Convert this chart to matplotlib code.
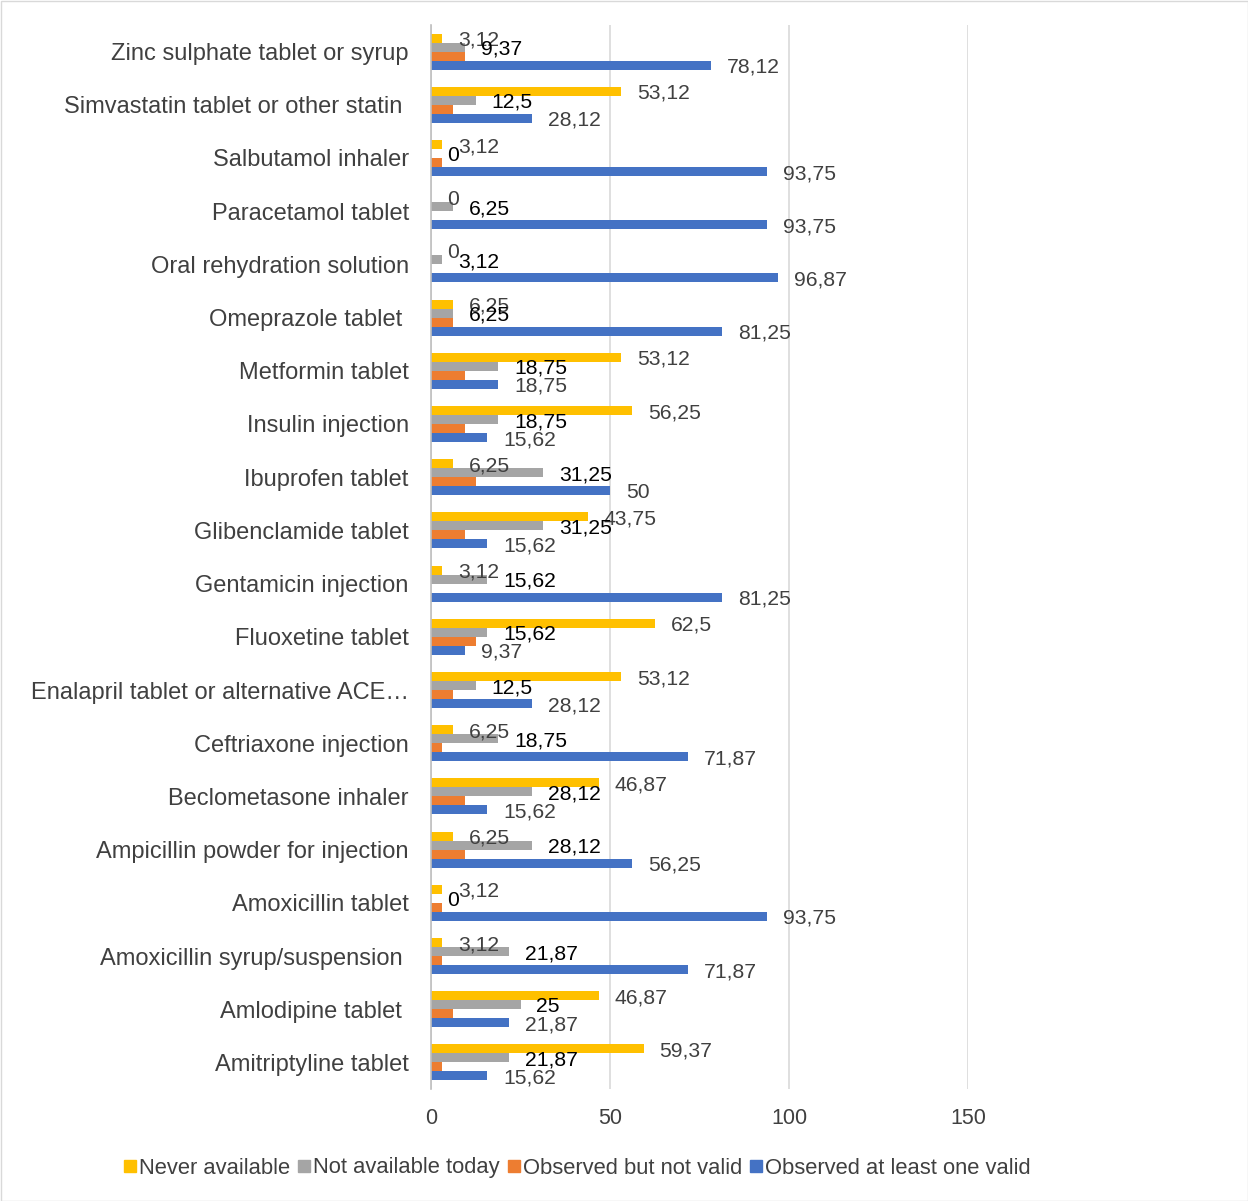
import matplotlib
matplotlib.use("Agg")
import matplotlib.pyplot as plt
from matplotlib.patches import Rectangle
from matplotlib.lines import Line2D

plt.rcParams['font.family'] = ['Liberation Sans', 'DejaVu Sans']

categories = [
    "Zinc sulphate tablet or syrup",
    "Simvastatin tablet or other statin ",
    "Salbutamol inhaler",
    "Paracetamol tablet",
    "Oral rehydration solution",
    "Omeprazole tablet ",
    "Metformin tablet",
    "Insulin injection",
    "Ibuprofen tablet",
    "Glibenclamide tablet",
    "Gentamicin injection",
    "Fluoxetine tablet",
    "Enalapril tablet or alternative ACE\u2026",
    "Ceftriaxone injection",
    "Beclometasone inhaler",
    "Ampicillin powder for injection",
    "Amoxicillin tablet",
    "Amoxicillin syrup/suspension ",
    "Amlodipine tablet ",
    "Amitriptyline tablet",
]

never_available = [3.12, 53.12, 3.12, 0, 0, 6.25, 53.12, 56.25, 6.25, 43.75,
                   3.12, 62.5, 53.12, 6.25, 46.87, 6.25, 3.12, 3.12, 46.87, 59.37]
not_available_today = [9.37, 12.5, 0, 6.25, 3.12, 6.25, 18.75, 18.75, 31.25, 31.25,
                       15.62, 15.62, 12.5, 18.75, 28.12, 28.12, 0, 21.87, 25, 21.87]
observed_not_valid = [9.37, 6.25, 3.12, 0, 0, 6.25, 9.37, 9.37, 12.5, 9.37,
                      0, 12.5, 6.25, 3.12, 9.37, 9.37, 3.12, 3.12, 6.25, 3.12]
observed_valid = [78.12, 28.12, 93.75, 93.75, 96.87, 81.25, 18.75, 15.62, 50, 15.62,
                  81.25, 9.37, 28.12, 71.87, 15.62, 56.25, 93.75, 71.87, 21.87, 15.62]

series_names = ["Never available", "Not available today",
                "Observed but not valid", "Observed at least one valid"]
x_ticks = [0, 50, 100, 150]

colors = ["#FFC000", "#A5A5A5", "#ED7D31", "#4472C4"]
label_colors = ["#404040", "#000000", None, "#404040"]

fig = plt.figure(figsize=(12.48, 12.01), dpi=100)
ax = fig.add_axes([431/1248, 1 - 1089/1201, (968-431)/1248, (1089-25)/1201])

n = len(categories)
h = 0.17
offsets = [1.5*h, 0.5*h, -0.5*h, -1.5*h]
data = [never_available, not_available_today, observed_not_valid, observed_valid]
ypos = [n - 1 - i for i in range(n)]

for k, (vals, col, off, lc) in enumerate(zip(data, colors, offsets, label_colors)):
    ys = [y + off for y in ypos]
    ax.barh(ys, vals, height=h, color=col, zorder=3)
    if lc is not None:
        for v, y in zip(vals, ys):
            ax.annotate(f"{v:g}".replace('.', ','), xy=(v, y), xytext=(11.5, -1.5),
                        textcoords='offset points', ha='left', va='center',
                        fontsize=15.2, color=lc, zorder=4)

ax.set_xlim(0, 150)
ax.set_ylim(-0.5, n - 0.5)
ax.set_xticks(x_ticks)
ax.set_xticklabels([str(t) for t in x_ticks], fontsize=15.5, color='#404040')
ax.set_yticks(ypos)
ax.set_yticklabels(categories, fontsize=17, color='#404040')
ax.tick_params(axis='both', length=0)
ax.tick_params(axis='x', pad=13.5)
ax.tick_params(axis='y', pad=16)
ax.grid(axis='x', color='#D9D9D9', linewidth=1.2, zorder=0)
for s in ['top', 'right', 'bottom']:
    ax.spines[s].set_visible(False)
ax.spines['left'].set_color('#BFBFBF')
ax.spines['left'].set_linewidth(1.2)
ax.spines['left'].set_zorder(5)

handles = [Line2D([0], [0], marker='s', linestyle='none', markersize=8.5,
                  markerfacecolor=c, markeredgecolor=c) for c in colors]
fig.legend(handles, series_names, loc='center', bbox_to_anchor=(577/1248, 1 - 1168/1201),
           ncol=4, frameon=False, fontsize=15.8, handlelength=0.6, handletextpad=0.1,
           columnspacing=0.35, labelcolor='#404040')

fig.add_artist(Rectangle((0.5/1248, 0.5/1201), 1 - 1/1248, 1 - 1/1201, transform=fig.transFigure,
                         fill=False, edgecolor='#D9D9D9', linewidth=1))

fig.savefig("out.png", dpi=100)
